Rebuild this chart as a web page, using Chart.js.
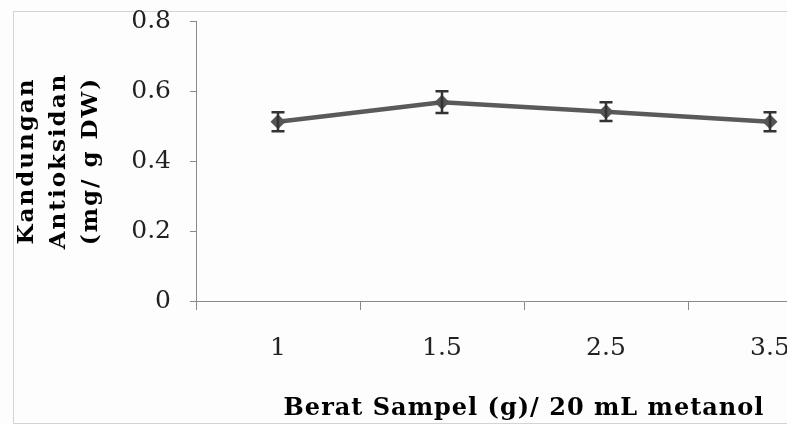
<!DOCTYPE html>
<html>
<head>
<meta charset="utf-8">
<script src="https://cdn.jsdelivr.net/npm/chart.js@4.4.0/dist/chart.umd.min.js"></script>
<style>
  body { margin: 0; background: #fdfdfd; }
  #wrap { position: relative; width: 787px; height: 424px; overflow: hidden; }
  #frame { position: absolute; left: 13px; top: 11px; width: 860px; height: 411px; border: 1px solid #d4d4d4; }
  canvas { position: absolute; left: 0; top: 0; }
</style>
</head>
<body>
<div id="wrap">
  <div id="frame"></div>
  <!-- the original figure is cut off on the right, so the canvas runs past the window -->
  <canvas id="chart" width="870" height="424"></canvas>
</div>
<script>
// Data
var sampleWeights = ['1', '1.5', '2.5', '3.5'];      // g sample / 20 mL metanol
var antioxidant = [0.512, 0.568, 0.541, 0.512];     // mg/g DW
var errorBars = [0.027, 0.031, 0.027, 0.027];       // +/- error
var yMin = 0, yMax = 0.8, yStep = 0.2;

var xTitle = 'Berat Sampel (g)/ 20 mL metanol';
var yTitle = ['Kandungan', 'Antioksidan', '(mg/ g DW)'];

var axisGray = '#8a8a8a';

// Draws the vertical error bars with caps using the chart's own y scale
var errorBarPlugin = {
    id: 'errorBars',
    afterDatasetsDraw: function(chart) {
        var ctx = chart.ctx;
        var yScale = chart.scales.y;
        var meta = chart.getDatasetMeta(0);
        ctx.save();
        ctx.strokeStyle = '#333333';
        ctx.lineWidth = 2.5;
        meta.data.forEach(function(pt, i) {
            var x = pt.x;
            var top = yScale.getPixelForValue(antioxidant[i] + errorBars[i]);
            var bot = yScale.getPixelForValue(antioxidant[i] - errorBars[i]);
            ctx.beginPath();
            ctx.moveTo(x, top); ctx.lineTo(x, bot);
            ctx.moveTo(x - 6.5, top); ctx.lineTo(x + 6.5, top);
            ctx.moveTo(x - 6.5, bot); ctx.lineTo(x + 6.5, bot);
            ctx.stroke();
        });
        ctx.restore();
    }
};

// Axis titles: the original uses a wide bold serif,
// so they are drawn here with a bit of letter spacing
var axisTitlePlugin = {
    id: 'axisTitles',
    afterDraw: function(chart) {
        var ctx = chart.ctx;
        var area = chart.chartArea;
        ctx.save();
        ctx.fillStyle = '#000';
        ctx.textAlign = 'center';
        ctx.textBaseline = 'alphabetic';

        ctx.font = 'bold 24px "DejaVu Serif"';
        ctx.letterSpacing = '1px';
        ctx.fillText(xTitle, (area.left + area.right) / 2, 415);

        ctx.font = 'bold 23px "DejaVu Serif"';
        ctx.letterSpacing = '2px';
        var midY = (area.top + area.bottom) / 2;
        var baselines = [33, 65, 97];
        yTitle.forEach(function(line, i) {
            ctx.save();
            ctx.translate(baselines[i], midY);
            ctx.rotate(-Math.PI / 2);
            ctx.fillText(line, 0, 0);
            ctx.restore();
        });
        ctx.restore();
    }
};

var ctx = document.getElementById('chart').getContext('2d');

var antioxidantChart = new Chart(ctx, {
    type: 'line',
    data: {
        labels: sampleWeights,
        datasets: [{
            label: 'Kandungan Antioksidan',
            data: antioxidant,
            borderColor: '#5a5a5a',
            borderWidth: 4.5,
            backgroundColor: '#555555',
            pointStyle: 'rectRot',
            pointRadius: 7.5,
            pointBorderWidth: 0,
            pointBackgroundColor: '#555555',
            tension: 0
        }]
    },
    options: {
        responsive: false,
        animation: false,
        layout: {
            padding: { left: 0, right: 18, top: 21, bottom: 0 }
        },
        plugins: {
            legend: { display: false },
            tooltip: { enabled: false }
        },
        scales: {
            x: {
                type: 'category',
                offset: true,
                grid: {
                    offset: true,
                    drawOnChartArea: false,
                    tickLength: 9,
                    color: axisGray
                },
                border: { color: axisGray },
                ticks: {
                    padding: 23,
                    color: '#222',
                    font: { family: 'DejaVu Serif', size: 25 }
                },
                afterFit: function(scale) {
                    scale.height = 123;
                    scale.paddingLeft = 0;
                    scale.paddingRight = 0;
                }
            },
            y: {
                min: yMin,
                max: yMax,
                ticks: {
                    stepSize: yStep,
                    padding: 19,
                    color: '#222',
                    font: { family: 'DejaVu Serif', size: 25 }
                },
                grid: {
                    drawOnChartArea: false,
                    tickLength: 6,
                    color: axisGray
                },
                border: { color: axisGray },
                afterFit: function(scale) {
                    scale.width = 196;
                    scale.paddingTop = 0;
                    scale.paddingBottom = 0;
                }
            }
        }
    },
    plugins: [errorBarPlugin, axisTitlePlugin]
});
</script>
</body>
</html>
